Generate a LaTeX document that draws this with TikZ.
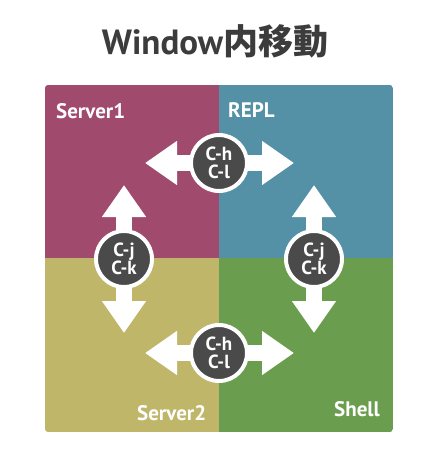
\documentclass[tikz,border=0pt]{standalone}
\usepackage{fontspec}
\setmainfont{PT Sans}
\newfontfamily\jpfont{Noto Sans CJK JP}
\usepackage{tikz}
\usetikzlibrary{positioning}
\usetikzlibrary{arrows.meta}
\definecolor{srvone}{HTML}{A04B6E}
\definecolor{repl}{HTML}{5591A6}
\definecolor{srvtwo}{HTML}{C0B66A}
\definecolor{shell}{HTML}{6A9E4E}
\definecolor{keydark}{HTML}{4A4A4A}
\definecolor{titlegray}{HTML}{3C3C3C}

\begin{document}
\begin{tikzpicture}[x=1pt,y=-1pt,
	panelname/.style={text=white,font=\bfseries\fontsize{21}{21}\selectfont,inner sep=0pt},
	keyball/.style={circle,fill=keydark,draw=white,line width=4pt,minimum size=56pt,inner sep=0pt,text=white,align=center,font=\bfseries\fontsize{19}{18.5}\selectfont},
	move/.style={white,line width=16pt,{Triangle[width=42pt,length=32pt]}-{Triangle[width=42pt,length=32pt]}}]
	\useasboundingbox (0,0) rectangle (438,464);
	
	\node [anchor=base,text=titlegray,font=\bfseries\fontsize{35}{35}\selectfont,inner sep=0pt] at (215,54) (title) {Window{\jpfont\bfseries 内移動}};
	\begin{scope}
		\clip[rounded corners=3pt] (45,85) rectangle (393,432);
		\fill[srvone] (45,85) rectangle (219,258);
		\fill[repl] (219,85) rectangle (393,258);
		\fill[srvtwo] (45,258) rectangle (219,432);
		\fill[shell] (219,258) rectangle (393,432);
	\end{scope}
	\node [panelname,anchor=base west] at (56,118) (srv1) {Server1};
	\node [panelname,anchor=base west] at (228,117) (repllbl) {REPL};
	\node [panelname,anchor=base west] at (137,420) (srv2) {Server2};
	\node [panelname,anchor=base east] at (380,416) (shelllbl) {Shell};
	
	\coordinate (topL) at (145,163); \coordinate (topR) at (294,163);
	\coordinate (botL) at (145,353); \coordinate (botR) at (294,353);
	\coordinate (lftT) at (124,185); \coordinate (lftB) at (124,333);
	\coordinate (rgtT) at (314,185); \coordinate (rgtB) at (314,333);
	\draw [move] (topL) -- (topR); \draw [move] (botL) -- (botR);
	\draw [move] (lftT) -- (lftB); \draw [move] (rgtT) -- (rgtB);
	\node [keyball] at (219,163) (keyTop) {C-h\\C-l};
	\node [keyball] at (219,353) (keyBot) {C-h\\C-l};
	\node [keyball] at (124,259) (keyLft) {C-j\\C-k};
	\node [keyball] at (314,259) (keyRgt) {C-j\\C-k};
\end{tikzpicture}
\end{document}
